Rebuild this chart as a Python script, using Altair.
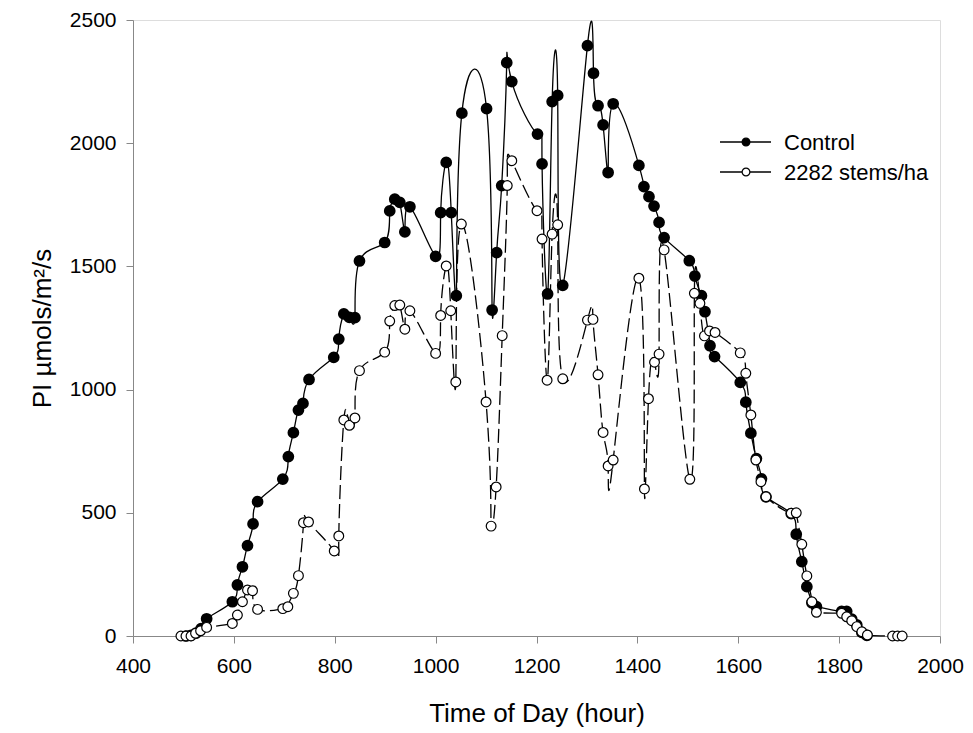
import altair as alt
import pandas as pd

# ---- data ----
series_names = ["Control", "2282 stems/ha"]

control_time = [505, 515, 525, 535, 546, 597, 607, 617, 627, 638, 647, 697, 708, 718, 728, 737,
                749, 798, 808, 818, 829, 840, 849, 899, 909, 919, 929, 939, 949, 1000, 1010, 1021,
                1031, 1041, 1052, 1101, 1112, 1121, 1131, 1141, 1151, 1202, 1211, 1222, 1231, 1242,
                1252, 1301, 1313, 1322, 1332, 1342, 1352, 1403, 1413, 1423, 1433, 1443, 1453, 1503,
                1514, 1527, 1534, 1544, 1553, 1604, 1615, 1625, 1636, 1646, 1655, 1705, 1715, 1726,
                1736, 1746, 1755, 1805, 1815, 1825, 1835, 1845, 1855]
control_pi = [0, 3, 12, 30, 70, 139, 207, 281, 367, 455, 545, 637, 728, 825, 917, 944,
              1041, 1131, 1205, 1307, 1293, 1292, 1522, 1597, 1725, 1773, 1760, 1640, 1742, 1541, 1718, 1922,
              1718, 1381, 2122, 2140, 1323, 1556, 1828, 2327, 2250, 2037, 1916, 1388, 2169, 2194,
              1423, 2396, 2284, 2152, 2074, 1881, 2160, 1910, 1824, 1783, 1745, 1679, 1617, 1523,
              1461, 1381, 1316, 1178, 1134, 1029, 949, 823, 720, 638, 565, 497, 413, 302,
              200, 135, 119, 100, 100, 68, 45, 15, 3]

treat_time = [495, 505, 515, 524, 534, 546, 597, 607, 617, 627, 637, 647, 697, 707, 718, 728,
              738, 748, 799, 808, 818, 829, 840, 849, 899, 909, 919, 929, 939, 949, 1000, 1010,
              1021, 1030, 1040, 1051, 1100, 1110, 1120, 1132, 1142, 1151, 1201, 1211, 1221, 1231,
              1242, 1252, 1301, 1312, 1322, 1332, 1342, 1352, 1403, 1414, 1422, 1434, 1443, 1453,
              1504, 1513, 1524, 1533, 1543, 1554, 1604, 1615, 1625, 1635, 1645, 1655, 1705, 1715,
              1726, 1736, 1746, 1755, 1805, 1815, 1825, 1835, 1845, 1856, 1906, 1916, 1925]
treat_pi = [0, 0, 0, 11, 21, 35, 51, 85, 139, 187, 184, 108, 111, 119, 173, 245,
            460, 463, 345, 406, 877, 855, 885, 1077, 1152, 1278, 1341, 1343, 1245, 1320, 1147, 1301,
            1502, 1320, 1031, 1672, 950, 446, 605, 1219, 1828, 1929, 1726, 1611, 1038, 1631,
            1669, 1044, 1282, 1285, 1060, 826, 690, 714, 1452, 597, 963, 1111, 1144, 1567,
            636, 1391, 1350, 1218, 1238, 1232, 1149, 1066, 897, 714, 626, 565, 498, 500,
            372, 244, 139, 96, 92, 78, 62, 38, 17, 4, 0, 0, 0]

x_ticks = [400, 600, 800, 1000, 1200, 1400, 1600, 1800, 2000]
y_ticks = [0, 500, 1000, 1500, 2000, 2500]

df_c = pd.DataFrame({"time": control_time, "pi": control_pi, "series": series_names[0]})
df_t = pd.DataFrame({"time": treat_time, "pi": treat_pi, "series": series_names[1]})

FONT = "Liberation Sans"

xscale = alt.Scale(domain=[400, 2000], nice=False, zero=False)
yscale = alt.Scale(domain=[0, 2500], nice=False)

xaxis = alt.Axis(title="Time of Day (hour)", values=x_ticks, format="d", grid=False, tickSize=7,
                 labelPadding=12, titlePadding=24, labelFontSize=21, titleFontSize=26,
                 titleFontWeight="normal", labelFlush=False, labelFont=FONT, titleFont=FONT)
yaxis = alt.Axis(title="PI \u00b5mols/m\u00b2/s", values=y_ticks, format="d", grid=False, tickSize=7,
                 labelPadding=10, titlePadding=14, labelFontSize=21, titleFontSize=26,
                 titleFontWeight="normal", labelFont=FONT, titleFont=FONT)

enc_x = alt.X("time:Q", scale=xscale, axis=xaxis)
enc_y = alt.Y("pi:Q", scale=yscale, axis=yaxis)

control_line = alt.Chart(df_c).mark_line(color="black", strokeWidth=1.3, interpolate="natural").encode(
    x=enc_x, y=enc_y, order="time:Q")
control_pts = alt.Chart(df_c).mark_point(shape="circle", filled=True, fill="black", stroke="black",
                                          size=95, opacity=1).encode(x="time:Q", y="pi:Q")
treat_line = alt.Chart(df_t).mark_line(color="black", strokeWidth=1.3, strokeDash=[14, 5],
                                        interpolate="natural").encode(x="time:Q", y="pi:Q", order="time:Q")
treat_pts = alt.Chart(df_t).mark_point(shape="circle", filled=True, fill="white", stroke="black",
                                        strokeWidth=1.2, size=95, opacity=1).encode(x="time:Q", y="pi:Q")

# ---- manual legend (layout positions only) ----
leg_c = pd.DataFrame({"series": [series_names[0]]})
leg_t = pd.DataFrame({"series": [series_names[1]]})
LX1, LX2, LXM, LXT = 587, 638, 613, 651
LY1, LY2 = 122, 152

leg_layers = []
for d, ly, fill in [(leg_c, LY1, "black"), (leg_t, LY2, "white")]:
    leg_layers.append(alt.Chart(d).mark_rule(color="black", strokeWidth=1.3).encode(
        x=alt.value(LX1), x2=alt.value(LX2), y=alt.value(ly)))
    leg_layers.append(alt.Chart(d).mark_point(shape="circle", filled=True, fill=fill, stroke="black",
                                              strokeWidth=1.2, size=60, opacity=1).encode(
        x=alt.value(LXM), y=alt.value(ly)))
    leg_layers.append(alt.Chart(d).mark_text(align="left", baseline="middle", fontSize=22, font=FONT,
                                             color="black", dy=1).encode(
        x=alt.value(LXT), y=alt.value(ly), text="series:N"))

chart = alt.layer(control_line, control_pts, treat_line, treat_pts, *leg_layers).properties(
    width=807, height=616,
    autosize="none",
    padding={"left": 133, "top": 20, "right": 33, "bottom": 97},
).configure_view(stroke=None).configure_axis(
    domainColor="black", tickColor="black", labelColor="black", titleColor="black",
    labelFont=FONT, titleFont=FONT, titleFontWeight="normal", domainWidth=1.2, tickWidth=1.2
).configure(background="white")

chart.save("out.html", embed_options={"renderer": "svg", "actions": False})
